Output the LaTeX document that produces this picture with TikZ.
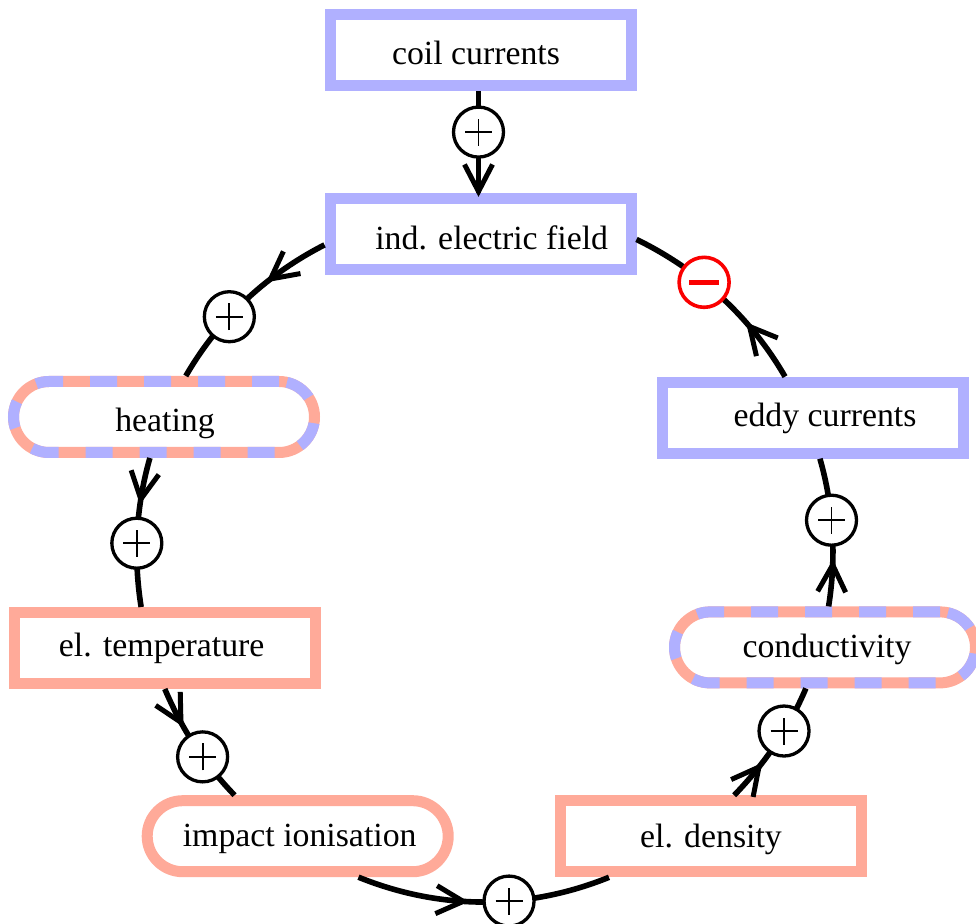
\documentclass[tikz,border=0pt]{standalone}
\usepackage{fontspec}
\setmainfont{Liberation Serif}
\usetikzlibrary{decorations.markings}
\definecolor{lav}{RGB}{176,176,255}
\definecolor{salm}{RGB}{255,170,153}
\definecolor{negred}{RGB}{250,0,0}
% box caption: #1 = twice the horizontal offset, #2 = baseline offset
\newcommand\boxcaption[3]{\raisebox{#2}[0pt][0pt]{\makebox[0pt]{\hspace*{#1}#3}}}
\begin{document}
\begin{tikzpicture}[x=1pt,y=1pt,
  box/.style={rectangle, minimum width=301pt, minimum height=71pt,
    inner sep=0pt, line width=11pt, fill=white,
    text height=0pt, text depth=0pt,
    font=\fontsize{33.8pt}{40pt}\selectfont},
  bluebox/.style={box, draw=lav},
  redbox/.style={box, draw=salm},
  roundred/.style={redbox, rounded corners=35.5pt},
  mixbox/.style={box, draw=salm, rounded corners=35.5pt,
    postaction={draw=lav, dash pattern=on 27pt off 27pt}},
  link/.style={line width=5.6pt},
  % open barb whose tip sits at the marked point of the path
  arrowat/.style={postaction={decorate, decoration={markings,
    mark=at position #1 with {\draw[line width=5pt, line join=miter]
      (-27pt,14pt) -- (0,0) -- (-27pt,-14pt);}}}},
  plus/.style={circle, draw=black, fill=white, line width=3.3pt,
    minimum size=50pt, inner sep=0pt,
    path picture={\draw[line width=1.9pt]
      ([xshift=-13.5pt]path picture bounding box.center) -- ++(27pt,0)
      ([yshift=-13.5pt]path picture bounding box.center) -- ++(0,27pt);}},
  minus/.style={circle, draw=negred, fill=white, line width=3.6pt,
    minimum size=50pt, inner sep=0pt,
    path picture={\draw[line width=5pt, negred]
      ([xshift=-15pt]path picture bounding box.center) -- ++(30pt,0);}}
]
\useasboundingbox (0,0) rectangle (976,923);

% quantities
\node[bluebox] (coil) at (480.5,872.5) {\boxcaption{-9pt}{-14.5pt}{coil currents}};
\node[bluebox] (ind) at (480.5,689) {\boxcaption{22.4pt}{-16pt}{ind. electric field}};
\node[mixbox] (heating) at (164,506) {\boxcaption{2pt}{-14.7pt}{heating}};
\node[redbox] (temp) at (164.8,275) {\boxcaption{-6.2pt}{-8.7pt}{el. temperature}};
\node[roundred] (impact) at (297.7,86.8) {\boxcaption{4pt}{-10.5pt}{impact ionisation}};
\node[redbox] (density) at (710.5,86.7) {\boxcaption{1pt}{-10.7pt}{el. density}};
\node[mixbox] (cond) at (825,275.6) {\boxcaption{4pt}{-10.6pt}{conductivity}};
\node[bluebox] (eddy) at (812.7,505.3) {\boxcaption{24.6pt}{-9pt}{eddy currents}};

% couplings
\draw[link, arrowat=0.985] ([xshift=-2pt]coil.south) -- node[plus, pos=0.4] (p0) {}
  ([xshift=-2pt]ind.north);
\draw[link, arrowat=0.33] (ind.184) to[out=207, in=60, distance=65.5pt]
  node[plus, pos=0.62] (p1) {} (heating.62);
\draw[link, arrowat=0.28] (heating.251) to[out=254, in=99, distance=50.7pt]
  node[plus, pos=0.575] (p2) {} (temp.120);
\draw[link, arrowat=0.29] (temp.270) to[out=293, in=134, distance=43.3pt]
  node[plus, pos=0.61] (p3) {} (impact.147);
\draw[link, arrowat=0.42] (impact.326) to[out=338, in=202, distance=88.3pt]
  node[plus, pos=0.6] (p4) {} (density.202);
\draw[link, arrowat=0.29] (density.60) to[out=46, in=247, distance=43.5pt]
  node[plus, pos=0.63] (p5) {} (cond.245);
\draw[link, arrowat=0.28] (cond.85) to[out=81, in=286, distance=50.2pt]
  node[plus, pos=0.58] (p6) {} (eddy.280);
\draw[link, arrowat=0.3] (eddy.124) to[out=120, in=334, distance=69.2pt]
  node[minus, pos=0.61] (m7) {} (ind.358);
\end{tikzpicture}
\end{document}
